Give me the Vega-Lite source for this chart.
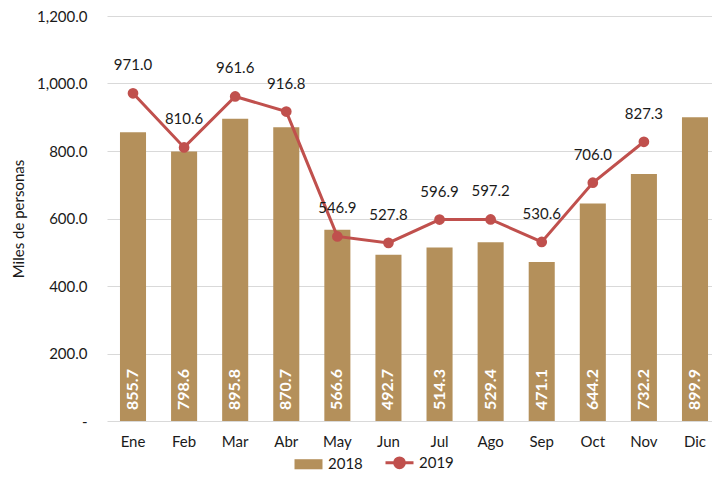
{
  "$schema": "https://vega.github.io/schema/vega-lite/v6.json",
  "autosize": "none",
  "width": 614,
  "height": 405,
  "padding": {"left": 107, "top": 16, "right": 0, "bottom": 64},
  "background": "white",
  "config": {
    "font": "Lato",
    "view": {"stroke": null},
    "axis": {"labelFont": "Lato", "titleFont": "Lato"}
  },
  "data": {
    "values": [
      {"mes": "Ene", "anio": "2018", "valor": 855.7},
      {"mes": "Feb", "anio": "2018", "valor": 798.6},
      {"mes": "Mar", "anio": "2018", "valor": 895.8},
      {"mes": "Abr", "anio": "2018", "valor": 870.7},
      {"mes": "May", "anio": "2018", "valor": 566.6},
      {"mes": "Jun", "anio": "2018", "valor": 492.7},
      {"mes": "Jul", "anio": "2018", "valor": 514.3},
      {"mes": "Ago", "anio": "2018", "valor": 529.4},
      {"mes": "Sep", "anio": "2018", "valor": 471.1},
      {"mes": "Oct", "anio": "2018", "valor": 644.2},
      {"mes": "Nov", "anio": "2018", "valor": 732.2},
      {"mes": "Dic", "anio": "2018", "valor": 899.9},
      {"mes": "Ene", "anio": "2019", "valor": 971.0},
      {"mes": "Feb", "anio": "2019", "valor": 810.6},
      {"mes": "Mar", "anio": "2019", "valor": 961.6},
      {"mes": "Abr", "anio": "2019", "valor": 916.8},
      {"mes": "May", "anio": "2019", "valor": 546.9},
      {"mes": "Jun", "anio": "2019", "valor": 527.8},
      {"mes": "Jul", "anio": "2019", "valor": 596.9},
      {"mes": "Ago", "anio": "2019", "valor": 597.2},
      {"mes": "Sep", "anio": "2019", "valor": 530.6},
      {"mes": "Oct", "anio": "2019", "valor": 706.0},
      {"mes": "Nov", "anio": "2019", "valor": 827.3}
    ]
  },
  "encoding": {
    "x": {
      "field": "mes",
      "type": "nominal",
      "sort": ["Ene","Feb","Mar","Abr","May","Jun","Jul","Ago","Sep","Oct","Nov","Dic"],
      "scale": {"paddingInner": 0.49, "paddingOuter": 0.254},
      "axis": {
        "title": null,
        "labelAngle": 0,
        "labelFontSize": 15,
        "labelColor": "#1a1a1a",
        "labelPadding": 13,
        "ticks": false,
        "tickSize": 0,
        "domain": false
      }
    },
    "y": {
      "field": "valor",
      "type": "quantitative",
      "scale": {"domain": [0, 1200], "nice": false},
      "axis": {
        "title": "Miles de personas",
        "titleFontSize": 15,
        "titleFontWeight": "normal",
        "titleColor": "#1a1a1a",
        "titleX": -89,
        "titleBaseline": "middle",
        "values": [0, 200, 400, 600, 800, 1000, 1200],
        "labelExpr": "datum.value == 0 ? '-' : format(datum.value, ',.1f')",
        "labelFontSize": 15,
        "labelColor": "#1a1a1a",
        "labelPadding": 20,
        "ticks": false,
        "tickSize": 0,
        "domain": false,
        "gridColor": "#D9D9D9",
        "gridWidth": 1
      }
    }
  },
  "layer": [
    {
      "transform": [{"filter": "datum.anio == '2018'"}],
      "mark": {"type": "bar"},
      "encoding": {
        "color": {
          "field": "anio",
          "type": "nominal",
          "scale": {"domain": ["2018", "2019"], "range": ["#B4905B", "#C0504D"]},
          "legend": {
            "title": null,
            "orient": "none",
            "legendX": 194,
            "legendY": 439,
            "direction": "horizontal",
            "labelFontSize": 15,
            "labelColor": "#1a1a1a",
            "labelFont": "Lato",
            "symbolSize": 784,
            "columnPadding": 16,
            "labelOffset": 12,
            "padding": 0,
            "encode": {
              "symbols": {
                "update": {
                  "shape": {"signal": "datum.value == '2019' ? 'M-1,0H-0.35A0.35,0.35 0 1,1 0.35,0H1M0.35,0A0.35,0.35 0 1,1 -0.35,0' : 'M-1,-0.36H1V0.36H-1Z'"},
                  "fill": {"signal": "datum.value == '2019' ? '#C0504D' : '#B4905B'"},
                  "stroke": {"signal": "datum.value == '2019' ? '#C0504D' : '#B4905B'"},
                  "strokeWidth": {"signal": "datum.value == '2019' ? 3 : 0"},
                  "opacity": {"value": 1},
                  "fillOpacity": {"value": 1}
                }
              }
            }
          }
        }
      }
    },
    {
      "transform": [{"filter": "datum.anio == '2018'"}],
      "mark": {
        "type": "text",
        "angle": -90,
        "align": "left",
        "baseline": "middle",
        "dx": 11,
        "font": "Lato",
        "fontSize": 16,
        "fontWeight": "bold",
        "color": "white"
      },
      "encoding": {
        "y": {"datum": 0, "type": "quantitative"},
        "text": {"field": "valor", "type": "quantitative", "format": ".1f"}
      }
    },
    {
      "transform": [{"filter": "datum.anio == '2019'"}],
      "mark": {"type": "line", "strokeWidth": 3},
      "encoding": {
        "color": {"field": "anio", "type": "nominal"}
      }
    },
    {
      "transform": [{"filter": "datum.anio == '2019'"}],
      "mark": {"type": "point", "filled": true, "size": 115, "opacity": 1},
      "encoding": {
        "color": {"field": "anio", "type": "nominal"}
      }
    },
    {
      "transform": [{"filter": "datum.anio == '2019'"}],
      "mark": {
        "type": "text",
        "align": "center",
        "baseline": "middle",
        "dy": -28,
        "font": "Lato",
        "fontSize": 15,
        "color": "#1a1a1a"
      },
      "encoding": {
        "text": {"field": "valor", "type": "quantitative", "format": ".1f"}
      }
    }
  ]
}
